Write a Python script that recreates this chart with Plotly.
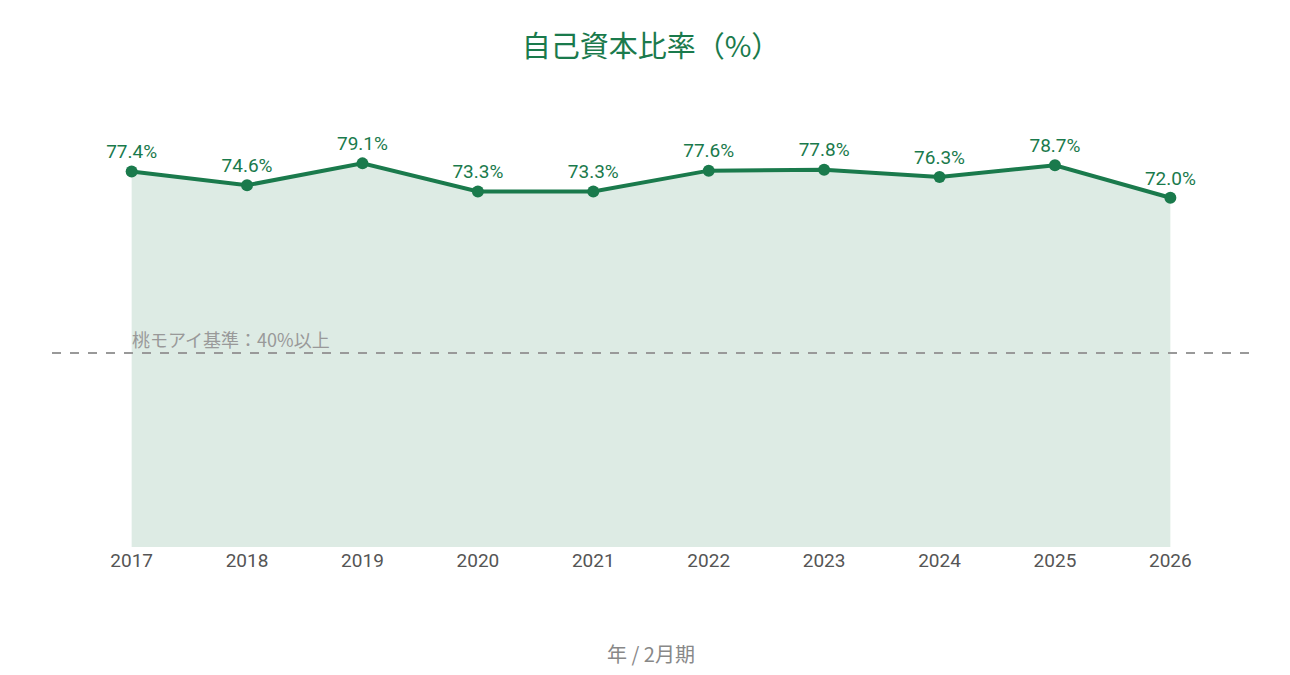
import plotly.graph_objects as go

years = ["2017", "2018", "2019", "2020", "2021", "2022", "2023", "2024", "2025", "2026"]
ratio = [77.4, 74.6, 79.1, 73.3, 73.3, 77.6, 77.8, 76.3, 78.7, 72.0]
threshold = 40
threshold_label = "桃モアイ基準：40%以上"

GREEN = "#1a7a4c"
FONT = "Roboto, Noto Sans CJK JP, sans-serif"
JPFONT = "Noto Sans CJK JP, sans-serif"

fig = go.Figure()
fig.add_trace(go.Scatter(
    x=years, y=ratio,
    mode="lines+markers+text",
    line=dict(color=GREEN, width=4),
    marker=dict(color=GREEN, size=12),
    fill="tozeroy",
    fillcolor="rgba(26,122,76,0.15)",
    text=[f"{v:.1f}%" for v in ratio],
    textposition="top center",
    textfont=dict(color=GREEN, size=19, family=FONT),
    hoverinfo="skip",
    showlegend=False,
))

fig.add_shape(type="line", xref="paper", yref="y", x0=0, x1=1, y0=threshold, y1=threshold,
              line=dict(color="#999999", width=2, dash="dash"))
fig.add_annotation(x=0, y=threshold, xref="x", yref="y", text=threshold_label,
                   showarrow=False, xanchor="left", yanchor="bottom", xshift=-2, yshift=-1,
                   font=dict(color="#999999", size=18, family=JPFONT))

fig.update_layout(
    width=1290, height=675,
    margin=dict(l=52, r=40, t=62, b=128),
    paper_bgcolor="white", plot_bgcolor="white",
    title=dict(text="自己資本比率（%）", xref="paper", x=0.5, xanchor="center", y=0.93, yanchor="middle",
               font=dict(color=GREEN, size=29, family=JPFONT)),
    xaxis=dict(type="category", range=[-0.69, 9.69], showgrid=False, showline=False,
               zeroline=False, ticks="",
               tickfont=dict(color="#555555", size=19, family=FONT),
               title=dict(text="年 / 2月期", standoff=76,
                          font=dict(color="#888888", size=20, family=JPFONT))),
    yaxis=dict(range=[0, 100], visible=False, showgrid=False, zeroline=False),
)

fig.write_html("out.html")
